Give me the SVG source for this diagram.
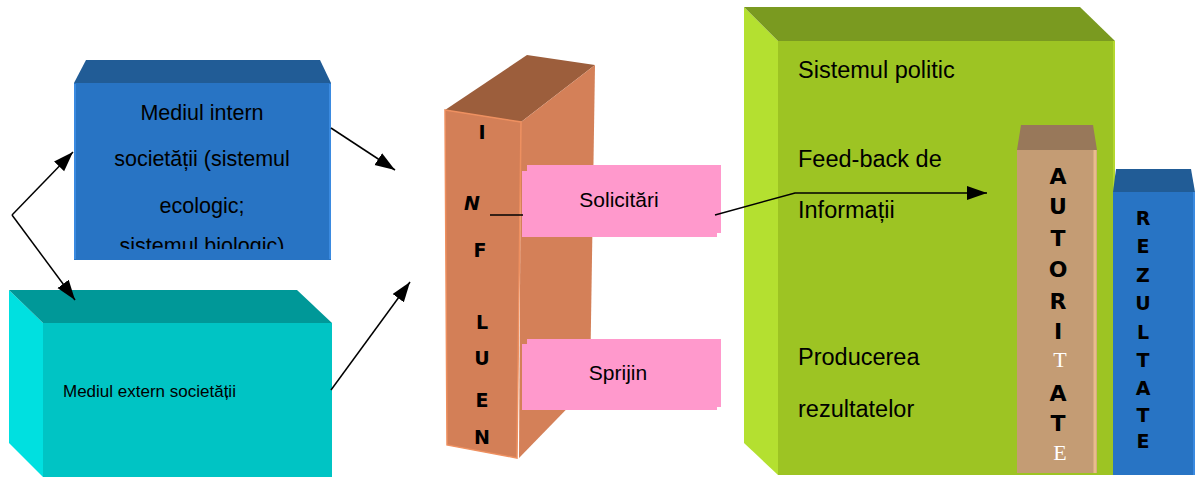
<svg xmlns="http://www.w3.org/2000/svg" width="1201" height="477" viewBox="0 0 1201 477">
<style>
.sans{font-family:"Liberation Sans",Arial,sans-serif;fill:#000}
.bl{font-family:"DejaVu Sans",Verdana,sans-serif;font-weight:bold;fill:#000;text-anchor:middle}
.sr{font-family:"Liberation Serif","Times New Roman",serif;fill:#fff;text-anchor:middle}
.con{stroke:#000;stroke-width:1.5;fill:none}
.pink{fill:#ff99cc}
</style>
<defs>
<marker id="ah" markerUnits="userSpaceOnUse" markerWidth="22" markerHeight="16" refX="20" refY="7" orient="auto">
<path d="M0,0 L20,7 L0,14 z" fill="#000"/>
</marker>
<clipPath id="clipBlue"><rect x="74" y="83" width="257" height="166"/></clipPath>
</defs>
<rect width="1201" height="477" fill="#fff"/>

<g id="mediul-intern">
<polygon points="86,60 320,60 331,83 74,83" fill="#215c96"/>
<rect x="74" y="83" width="257" height="177" fill="#2874c4"/>
<line x1="75" y1="84" x2="75" y2="259" stroke="#3a8ae0" stroke-width="2"/>
<line x1="330" y1="84" x2="330" y2="259" stroke="#3a8ae0" stroke-width="2"/>
<g clip-path="url(#clipBlue)" class="sans" font-size="21.5" text-anchor="middle">
<text x="202" y="120">Mediul intern</text>
<text x="202" y="166">societății (sistemul</text>
<text x="202" y="213">ecologic;</text>
<text x="202" y="253">sistemul biologic)</text>
</g>
</g>

<g id="mediul-extern">
<polygon points="9,290 43,323 43,477 9,443" fill="#00e0e0"/>
<polygon points="9,290 297,290 332,323 43,323" fill="#009898"/>
<rect x="43" y="323" width="289" height="154" fill="#00c4c4"/>
<text class="sans" x="63" y="397" font-size="17">Mediul extern societății</text>
</g>

<g id="influenta">
<polygon points="445,110 527,55 595,65 521,122" fill="#9c5e3c"/>
<polygon points="521,122 595,65 590,385 519,458" fill="#d48058"/>
<polygon points="445,110 521,122 517,458 447,445" fill="#d37f57" stroke="#ee9060" stroke-width="1.5"/>
<g font-size="19">
<text class="bl" x="482" y="139">I</text>
<text class="bl" x="472" y="210" font-style="italic">N</text>
<text class="bl" x="480" y="257">F</text>
<text class="bl" x="482" y="329">L</text>
<text class="bl" x="482" y="365">U</text>
<text class="bl" x="482" y="407">E</text>
<text class="bl" x="482" y="444">N</text>
</g>
</g>

<g id="solicitari">
<rect class="pink" x="522" y="171" width="195" height="66"/>
<rect class="pink" x="527" y="165" width="194" height="68"/>
<text class="sans" x="619" y="207" font-size="21" text-anchor="middle">Solicitări</text>
</g>

<g id="sprijin">
<rect class="pink" x="522" y="344" width="195" height="66"/>
<rect class="pink" x="527" y="339" width="194" height="68"/>
<text class="sans" x="618" y="380" font-size="21" text-anchor="middle">Sprijin</text>
</g>

<g id="sistemul-politic">
<polygon points="744,7 778,41 778,475 744,443" fill="#b4e030"/>
<polygon points="744,7 1080,7 1115,41 778,41" fill="#7a9a20"/>
<rect x="778" y="41" width="337" height="434" fill="#9dc423"/>
<line x1="1114" y1="41" x2="1114" y2="475" stroke="#b4d830" stroke-width="2"/>
<g class="sans" font-size="23.5">
<text x="798" y="78">Sistemul politic</text>
<text x="798" y="167">Feed-back de</text>
<text x="798" y="218">Informații</text>
<text x="798" y="365">Producerea</text>
<text x="798" y="417">rezultatelor</text>
</g>
</g>

<g id="autoritate">
<polygon points="1021,125 1093,125 1097,150 1017,150" fill="#98785a"/>
<rect x="1017" y="150" width="80" height="323" fill="#c49c74"/>
<line x1="1095" y1="150" x2="1095" y2="473" stroke="#e8bc8c" stroke-width="3"/>
<g font-size="22">
<text class="bl" x="1058" y="184">A</text>
<text class="bl" x="1058" y="214">U</text>
<text class="bl" x="1058" y="246">T</text>
<text class="bl" x="1058" y="277">O</text>
<text class="bl" x="1058" y="309">R</text>
<text class="bl" x="1058" y="339">I</text>
<text class="sr" x="1060" y="367">T</text>
<text class="bl" x="1058" y="401">A</text>
<text class="bl" x="1058" y="431">T</text>
<text class="sr" x="1060" y="460">E</text>
</g>
</g>

<g id="rezultate">
<polygon points="1116,169 1191,169 1195,192 1113,192" fill="#215c96"/>
<rect x="1113" y="192" width="82" height="283" fill="#2874c4"/>
<line x1="1194" y1="192" x2="1194" y2="475" stroke="#3a8ae0" stroke-width="2"/>
<g font-size="19">
<text class="bl" x="1143" y="225">R</text>
<text class="bl" x="1143" y="253" font-weight="normal">E</text>
<text class="bl" x="1143" y="282">Z</text>
<text class="bl" x="1143" y="310">U</text>
<text class="bl" x="1143" y="339">L</text>
<text class="bl" x="1143" y="367">T</text>
<text class="bl" x="1143" y="395">A</text>
<text class="bl" x="1143" y="422" font-weight="normal">T</text>
<text class="bl" x="1143" y="448" font-weight="normal">E</text>
</g>
</g>

<g id="connectors">
<path class="con" d="M12,215 L73,152" marker-end="url(#ah)"/>
<path class="con" d="M12,215 L75,300" marker-end="url(#ah)"/>
<path class="con" d="M331,128 L395,170" marker-end="url(#ah)"/>
<path class="con" d="M331,390 L410,282" marker-end="url(#ah)"/>
<path class="con" d="M490,215 L523,215"/>
<path class="con" d="M715,215 L795,193 L987,193" marker-end="url(#ah)"/>
</g>
</svg>
